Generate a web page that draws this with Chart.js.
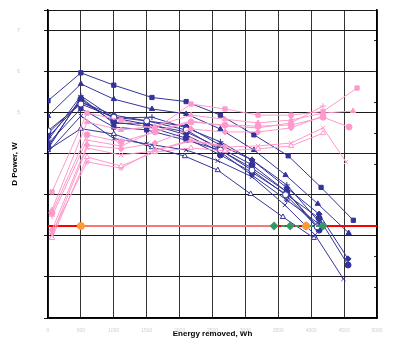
<!DOCTYPE html>
<html>
<head>
<meta charset="utf-8">
<script src="https://cdn.jsdelivr.net/npm/chart.js@4.4.0/dist/chart.umd.min.js"></script>
<style>
  html, body { margin: 0; padding: 0; background: #fff; }
  #wrap { width: 409px; height: 341px; }
</style>
</head>
<body>
<div id="wrap"><canvas id="c"></canvas></div>
<script>
// x tick labels (energy removed, Wh)
const xTicks = ['0', '500', '1000', '1500', '2000', '2500', '3000', '3500', '4000', '4500', '5000'];

// dark blue series
const blueSquareX = [0, 500, 1000, 1580, 2100, 2620, 3130, 3650, 4150, 4640];
const blueSquareY = [5.29, 5.97, 5.67, 5.37, 5.27, 4.94, 4.46, 3.95, 3.18, 2.38];
const blueTriX = [0, 500, 1000, 1580, 2100, 2620, 3130, 3610, 4100, 4570];
const blueTriY = [4.92, 5.70, 5.33, 5.09, 4.97, 4.60, 4.09, 3.48, 2.78, 2.07];
const blueRingX = [0, 500, 1000, 1500, 2100, 2620, 3100, 3610, 4090];
const blueRingY = [4.56, 5.21, 4.89, 4.80, 4.58, 4.09, 3.60, 3.00, 2.22];
const blueDiamondX = [0, 500, 1000, 1500, 2100, 2620, 3100, 3630, 4120, 4560];
const blueDiamondY = [4.40, 5.26, 4.94, 4.80, 4.67, 4.21, 3.85, 3.17, 2.53, 1.44];
const blueDotX = [0, 500, 1000, 1500, 2100, 2620, 3100, 3630, 4120, 4560];
const blueDotY = [4.17, 5.33, 4.77, 4.67, 4.38, 3.97, 3.55, 3.00, 2.43, 1.29];
const blueStarX = [0, 500, 1000, 1500, 2100, 2620, 3100, 3630, 4120];
const blueStarY = [4.12, 5.37, 4.74, 4.74, 4.46, 4.04, 3.48, 2.87, 2.29];
const blueCrossX = [0, 500, 1000, 1500, 2100, 2580, 3100, 3600, 4060, 4490];
const blueCrossY = [4.04, 4.92, 4.37, 4.24, 4.09, 3.83, 3.44, 2.75, 2.02, 0.95];
const blueOpenTriX = [0, 500, 1000, 1580, 2080, 2580, 3080, 3570, 4040];
const blueOpenTriY = [4.09, 4.61, 4.48, 4.16, 3.94, 3.60, 3.02, 2.46, 1.95];
const bluePlusX = [0, 500, 1000, 1580, 2100, 2620, 3100, 3630, 4120];
const bluePlusY = [4.33, 5.41, 4.87, 4.89, 4.63, 4.29, 3.85, 3.24, 2.34];
const blueSquare2X = [0, 500, 1000, 1500, 2100, 2620, 3100, 3630, 4120];
const blueSquare2Y = [4.24, 5.10, 4.65, 4.58, 4.33, 4.09, 3.65, 3.07, 2.19];
const blueDot2X = [0, 500, 1000, 1500, 2100, 2620, 3100, 3630, 4120];
const blueDot2Y = [4.50, 5.26, 4.87, 4.72, 4.53, 4.14, 3.73, 3.07, 2.14];

// pink series
const pinkSquareX = [61, 593, 1110, 1626, 2174, 2690, 3192, 3694, 4180, 4697];
const pinkSquareY = [3.07, 4.99, 4.82, 4.60, 5.21, 5.09, 4.94, 4.94, 5.03, 5.60];
const pinkTriX = [61, 593, 1110, 1626, 2174, 2690, 3192, 3694, 4180, 4636];
const pinkTriY = [2.63, 4.77, 4.58, 4.67, 4.94, 4.84, 4.75, 4.82, 4.99, 5.04];
const pinkDotX = [61, 593, 1110, 1626, 2174, 2690, 3192, 3694, 4180, 4575];
const pinkDotY = [2.56, 4.46, 4.29, 4.53, 4.77, 4.70, 4.67, 4.70, 4.89, 4.65];
const pinkPlusX = [61, 593, 1110, 1626, 2174, 2690, 3192, 3694, 4180];
const pinkPlusY = [2.48, 4.33, 4.19, 4.55, 4.80, 4.67, 4.63, 4.75, 5.16];
const pinkDiamondX = [61, 593, 1110, 1626, 2174, 2690, 3192, 3694, 4180];
const pinkDiamondY = [2.14, 4.21, 4.12, 4.26, 4.60, 4.53, 4.53, 4.63, 4.92];
const pinkCrossX = [61, 593, 1110, 1626, 2174, 2690, 3192, 3694, 4180, 4530];
const pinkCrossY = [2.02, 4.14, 3.97, 4.07, 4.31, 4.16, 4.19, 4.26, 4.63, 3.80];
const pinkOpenTriX = [61, 593, 1110, 1626, 2174, 2690, 3192, 3694, 4180];
const pinkOpenTriY = [1.95, 3.92, 3.70, 4.04, 4.14, 4.07, 4.12, 4.19, 4.50];
const pinkStarX = [61, 593, 1110, 1626, 2174, 2690];
const pinkStarY = [2.07, 3.80, 3.65, 4.09, 4.33, 4.19];

// limit line
const limitY = 2.24;
const redLineX = [0, 5000];
const salmonLineX = [500, 3435];
const greenLineX = [3435, 3680, 3922, 4180];
const orangeX = [500, 3922];

const NAVY = '#333399';
const PINK = '#ff99cc';

function pts(xs, ys) {
    return xs.map((x, i) => ({ x: x, y: Array.isArray(ys) ? ys[i] : ys }));
}

function series(xs, ys, color, style, filled) {
    return {
        data: pts(xs, ys),
        borderColor: color,
        backgroundColor: filled ? color : '#ffffff',
        borderWidth: 1,
        pointStyle: style,
        pointRadius: 3,
        pointBorderWidth: 1,
        pointBorderColor: color,
        pointBackgroundColor: filled ? color : '#ffffff'
    };
}

const datasets = [
    // orange points on top
    { data: pts(orangeX, limitY), showLine: false, pointRadius: 3.5, pointStyle: 'circle',
      pointBackgroundColor: '#ff9933', pointBorderColor: '#ff9933', borderColor: '#ff9933' },
    // green dashed segment with diamonds
    { data: pts(greenLineX, limitY), borderColor: '#339966', borderWidth: 2, borderDash: [4, 3],
      pointStyle: 'rectRot', pointRadius: 3, pointBackgroundColor: '#339966', pointBorderColor: '#339966' },
    // light red segment
    { data: pts(salmonLineX, limitY), borderColor: '#f87878', borderWidth: 2, pointRadius: 0 },

    series(pinkSquareX, pinkSquareY, PINK, 'rect', true),
    series(pinkTriX, pinkTriY, PINK, 'triangle', true),
    series(pinkDotX, pinkDotY, PINK, 'circle', true),
    series(pinkPlusX, pinkPlusY, PINK, 'cross', true),
    series(pinkDiamondX, pinkDiamondY, PINK, 'rectRot', true),
    series(pinkCrossX, pinkCrossY, PINK, 'crossRot', true),
    series(pinkOpenTriX, pinkOpenTriY, PINK, 'triangle', false),
    series(pinkStarX, pinkStarY, PINK, 'star', true),

    series(blueSquareX, blueSquareY, NAVY, 'rect', true),
    series(blueTriX, blueTriY, NAVY, 'triangle', true),
    series(blueRingX, blueRingY, NAVY, 'circle', false),
    series(blueDiamondX, blueDiamondY, NAVY, 'rectRot', true),
    series(blueDotX, blueDotY, NAVY, 'circle', true),
    series(blueStarX, blueStarY, NAVY, 'star', true),
    series(blueCrossX, blueCrossY, NAVY, 'crossRot', true),
    series(blueOpenTriX, blueOpenTriY, NAVY, 'triangle', false),
    series(bluePlusX, bluePlusY, NAVY, 'cross', true),
    series(blueSquare2X, blueSquare2Y, NAVY, 'rect', true),
    series(blueDot2X, blueDot2Y, NAVY, 'circle', true),

    // full red limit line at the bottom
    { data: pts(redLineX, limitY), borderColor: '#ff0000', borderWidth: 2, pointRadius: 0 }
];

new Chart(document.getElementById('c'), {
    type: 'line',
    data: { datasets: datasets },
    options: {
        responsive: true,
        maintainAspectRatio: false,
        animation: false,
        layout: { padding: { top: 10, left: 0, right: 0, bottom: 0 } },
        plugins: { legend: { display: false }, tooltip: { enabled: false } },
        scales: {
            x: {
                type: 'linear',
                min: 0,
                max: 5000,
                afterFit: s => { s.height = 23; },
                afterBuildTicks: s => { s.ticks = xTicks.map(t => ({ value: Number(t) })); },
                ticks: {
                    callback: v => String(v),
                    color: '#cfcfcf',
                    font: { family: 'Liberation Sans', size: 5 },
                    padding: 10,
                    maxRotation: 0
                },
                grid: { color: '#333333', lineWidth: 1, drawTicks: false },
                border: { color: '#000000', width: 1.5 },
                title: {
                    display: true,
                    text: 'Energy removed, Wh',
                    color: '#000',
                    font: { family: 'Liberation Sans', size: 8, weight: 'bold' },
                    padding: { top: 0, bottom: 2 }
                }
            },
            y: {
                position: 'left',
                min: 0,
                max: 7.5,
                // labels sit far from the axis, keep that padding out of the layout
                afterFit: s => { s.width = 48; s.paddingTop = 3; s.paddingBottom = 3; },
                ticks: {
                    stepSize: 1,
                    callback: v => (Number.isInteger(v) && v >= 5 ? String(v) : ''),
                    color: '#c8c8c8',
                    font: { family: 'Liberation Sans', size: 5 },
                    padding: 24
                },
                grid: { color: '#1a1a1a', lineWidth: 1, tickLength: 4 },
                border: { color: '#000000', width: 1.5 },
                title: {
                    display: true,
                    text: 'D Power, W',
                    color: '#000',
                    font: { family: 'Liberation Sans', size: 8, weight: 'bold' },
                    padding: { top: 10, bottom: 0 }
                }
            },
            y2: {
                position: 'right',
                min: 0,
                max: 10,
                afterFit: s => { s.width = 32; s.paddingTop = 0; s.paddingBottom = 0; },
                ticks: { stepSize: 1, display: false },
                grid: { drawOnChartArea: false, color: '#333333', tickLength: -3 },
                border: { color: '#000000', width: 1.5 }
            }
        }
    }
});
</script>
</body>
</html>
